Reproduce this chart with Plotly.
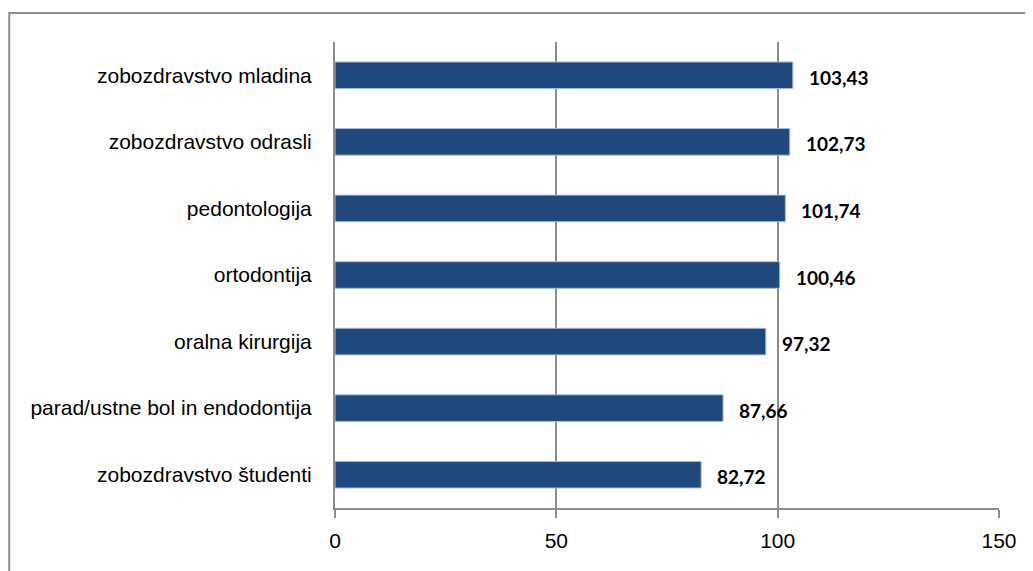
import plotly.graph_objects as go

categories = [
    "zobozdravstvo študenti",
    "parad/ustne bol in endodontija",
    "oralna kirurgija",
    "ortodontija",
    "pedontologija",
    "zobozdravstvo odrasli",
    "zobozdravstvo mladina",
]
values = [82.72, 87.66, 97.32, 100.46, 101.74, 102.73, 103.43]
value_labels = ["82,72", "87,66", "97,32", "100,46", "101,74", "102,73", "103,43"]
x_ticks = [0, 50, 100, 150]

fig = go.Figure()
fig.add_trace(go.Bar(
    x=values, y=categories, orientation="h",
    marker=dict(color="#1F497D", line=dict(color="#a8bcd8", width=1)),
    hoverinfo="skip",
))

for v, c, t in zip(values, categories, value_labels):
    fig.add_annotation(
        x=v, y=c, text=t, showarrow=False, xanchor="left", yanchor="middle",
        xshift=14, yshift=-2,
        font=dict(family="Lato", size=19, color="#000000", weight="bold"),
    )

fig.add_shape(type="rect", xref="paper", yref="paper",
              x0=-0.4906, x1=1.2, y0=-0.3, y1=1.0623,
              line=dict(color="#8c8c8c", width=2), fillcolor="rgba(0,0,0,0)")

fig.update_layout(
    width=1025, height=563,
    margin=dict(l=327, r=33.5, t=34, b=63.3),
    paper_bgcolor="white", plot_bgcolor="white",
    bargap=0.6, showlegend=False,
    font=dict(family="Liberation Sans, Arial", size=21, color="#000000"),
    xaxis=dict(
        range=[0, 150], tickvals=x_ticks, ticktext=[str(t) for t in x_ticks],
        showgrid=True, gridcolor="#8c8c8c", gridwidth=2,
        showline=True, linecolor="#8c8c8c", linewidth=2,
        ticks="outside", ticklen=8, tickwidth=2, tickcolor="#8c8c8c",
        ticklabelstandoff=5, zeroline=False,
        tickfont=dict(size=21),
    ),
    yaxis=dict(
        showline=True, linecolor="#8c8c8c", linewidth=2,
        ticks="", showgrid=False, ticklabelstandoff=17,
        tickfont=dict(size=21),
    ),
)

fig.write_html("out.html")
